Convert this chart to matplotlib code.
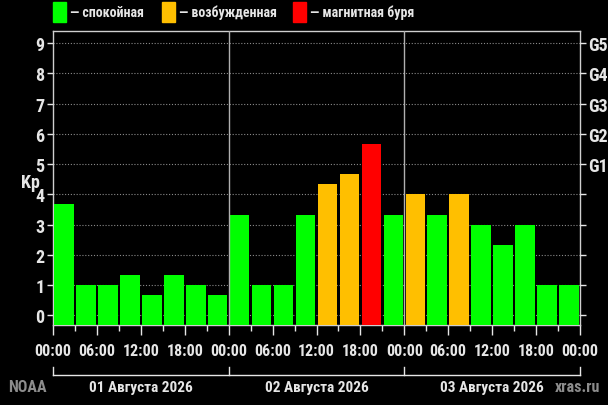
import matplotlib
matplotlib.use('Agg')
import matplotlib.pyplot as plt
import matplotlib.transforms as mtransforms
import numpy as np

# Kp index, three-hour intervals over three days
kp_values = [3.67, 1.0, 1.0, 1.33, 0.67, 1.33, 1.0, 0.67,
             3.33, 1.0, 1.0, 3.33, 4.33, 4.67, 5.67, 3.33,
             4.0, 3.33, 4.0, 3.0, 2.33, 3.0, 1.0, 1.0]
day_labels = ['01 Августа 2026', '02 Августа 2026', '03 Августа 2026']
time_labels = ['00:00', '06:00', '12:00', '18:00'] * 3 + ['00:00']
storm_labels = ['G1', 'G2', 'G3', 'G4', 'G5']
legend_labels = ['— спокойная', '— возбужденная', '— магнитная буря']

GREEN = '#00ff00'
ORANGE = '#ffbf00'
RED = '#ff0000'
FG = '#e6e6e6'

# narrow bold font, falls back to condensed DejaVu
FONT = dict(family=['Roboto Condensed', 'DejaVu Sans'], fontstretch='condensed', fontweight='bold')

def bar_color(v):
    if v >= 5:
        return RED
    if v >= 4:
        return ORANGE
    return GREEN

fig = plt.figure(figsize=(6.08, 4.06), dpi=100, facecolor='black')
ax = fig.add_axes([53 / 608, 80 / 406, 527 / 608, 294 / 406])
ax.set_facecolor('black')

hours = np.arange(len(kp_values)) * 3 + 1.5
ymin = -0.32
ax.bar(hours, np.array(kp_values) - ymin, bottom=ymin, width=3 * 0.89,
       color=[bar_color(v) for v in kp_values], zorder=3)

ax.set_xlim(0, 72)
ax.set_ylim(ymin, 9.4)

# dotted horizontal grid
for y in range(0, 10):
    ax.axhline(y, color='#8a8a8a', lw=0.8, ls=(0, (1, 1.6)), zorder=1)
# day separators
for d in (24, 48):
    ax.axvline(d, color='#b0b0b0', lw=1.0, zorder=4)

for s in ax.spines.values():
    s.set_color('#cfcfcf')
    s.set_linewidth(1.0)

ax.set_yticks(range(0, 10))
ax.set_yticklabels([str(i) for i in range(10)], **FONT)
ax.tick_params(axis='y', colors=FG, labelsize=13, length=4, width=1, direction='out', pad=2)

ax.set_xticks(np.arange(0, 73, 6))
ax.set_xticklabels(time_labels, **FONT)
ax.set_xticks(np.arange(3, 72, 6), minor=True)
ax.tick_params(axis='x', which='major', colors=FG, labelsize=11.5, length=7, width=1, pad=6)
ax.tick_params(axis='x', which='minor', colors=FG, length=4, width=1)

ax2 = ax.twinx()
ax2.set_ylim(ax.get_ylim())
ax2.set_yticks(range(0, 10))
ax2.set_yticklabels([''] * 5 + storm_labels, **FONT)
ax2.tick_params(axis='y', colors=FG, labelsize=13, length=4, width=1, pad=2)
for s in ax2.spines.values():
    s.set_visible(False)

fig.text(30 / 608, 1 - 183 / 406, 'Kp', color=FG, fontsize=13, ha='center', va='center', **FONT)

# day bracket under the time labels
trans = mtransforms.blended_transform_factory(ax.transData, fig.transFigure)
y_br = 1 - 376 / 406
y_up = 1 - 368 / 406
ax.plot([0, 72], [y_br, y_br], color=FG, lw=1, transform=trans, clip_on=False)
for d in (0, 24, 48, 72):
    ax.plot([d, d], [y_br, y_up], color=FG, lw=1, transform=trans, clip_on=False)
for i, lab in enumerate(day_labels):
    ax.text(i * 24 + 12, 1 - 388 / 406, lab, transform=trans, color=FG,
            fontsize=11, ha='center', va='center', **FONT)

fig.text(27 / 608, 1 - 388 / 406, 'NOAA', color='#8c8c8c', fontsize=11.5,
         ha='center', va='center', **FONT)
fig.text(577 / 608, 1 - 388 / 406, 'xras.ru', color='#8c8c8c', fontsize=11.5,
         ha='center', va='center', **FONT)

# legend on top
leg_colors = [GREEN, ORANGE, RED]
leg_x = [53, 162, 293]
for c, x0, lab in zip(leg_colors, leg_x, legend_labels):
    fig.patches.append(plt.Rectangle((x0 / 608, 1 - 23 / 406), 13 / 608, 20 / 406,
                                     transform=fig.transFigure, color=c))
    fig.text((x0 + 17) / 608, 1 - 13 / 406, lab, color=FG, fontsize=10,
             ha='left', va='center', **FONT)

fig.savefig('out.png', dpi=100, facecolor='black')
